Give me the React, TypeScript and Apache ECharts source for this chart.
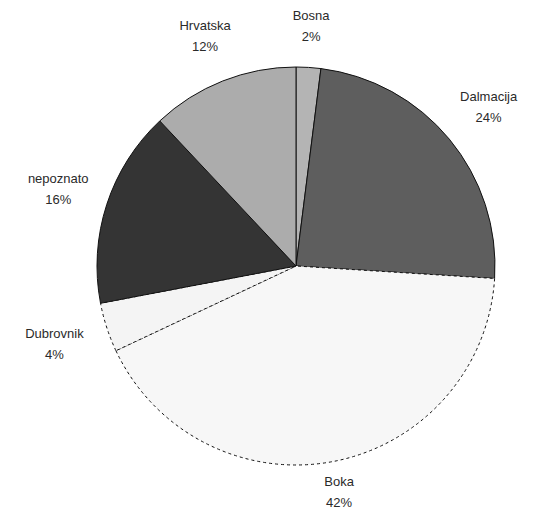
import React, { useEffect, useRef } from "react";
import * as echarts from "echarts";

const names = ["Bosna", "Dalmacija", "Boka", "Dubrovnik", "nepoznato", "Hrvatska"];
const shares = [2, 24, 42, 4, 16, 12];
const fills = ["#b4b4b4", "#5e5e5e", "#f7f7f7", "#f4f4f4", "#343434", "#acacac"];
const dashed = [false, false, true, true, false, false];
// distance of each label's centre from the pie centre, in px
const labelDist = [240, 250, 230, 254, 250, 247];

const CX = 296;
const CY = 266;
const R = 199;

export default function App() {
  const ref = useRef<HTMLDivElement>(null);

  useEffect(() => {
    if (!ref.current) return;
    const chart = echarts.init(ref.current, undefined, { renderer: "svg" });
    const total = shares.reduce((a, b) => a + b, 0);
    const mids: number[] = [];
    let acc = 0;
    shares.forEach((v) => {
      mids.push(((acc + v / 2) / total) * Math.PI * 2);
      acc += v;
    });

    chart.setOption({
      animation: false,
      backgroundColor: "#ffffff",
      series: [
        {
          type: "pie",
          center: [CX, CY],
          radius: R,
          startAngle: 90,
          clockwise: true,
          avoidLabelOverlap: false,
          label: {
            show: true,
            formatter: "{b}\n{d}%",
            fontFamily: "Liberation Sans, Arial, sans-serif",
            fontSize: 13,
            lineHeight: 21,
            color: "#2a2a2a",
            align: "center",
          },
          labelLine: { show: false },
          labelLayout: (params: any) => {
            const i = params.dataIndex;
            const a = mids[i];
            const d = labelDist[i];
            return {
              x: CX + d * Math.sin(a),
              y: CY - d * Math.cos(a),
              align: "center",
              verticalAlign: "middle",
            };
          },
          emphasis: { disabled: true },
          data: names.map((n, i) => ({
            name: n,
            value: shares[i],
            itemStyle: {
              color: fills[i],
              borderColor: "#111",
              borderWidth: 1,
              borderType: dashed[i] ? [3, 3] : "solid",
            },
          })),
        },
      ],
    });
    return () => chart.dispose();
  }, []);

  return (
    <div
      ref={ref}
      style={{ position: "absolute", left: 0, top: 0, width: 535, height: 513 }}
    />
  );
}
